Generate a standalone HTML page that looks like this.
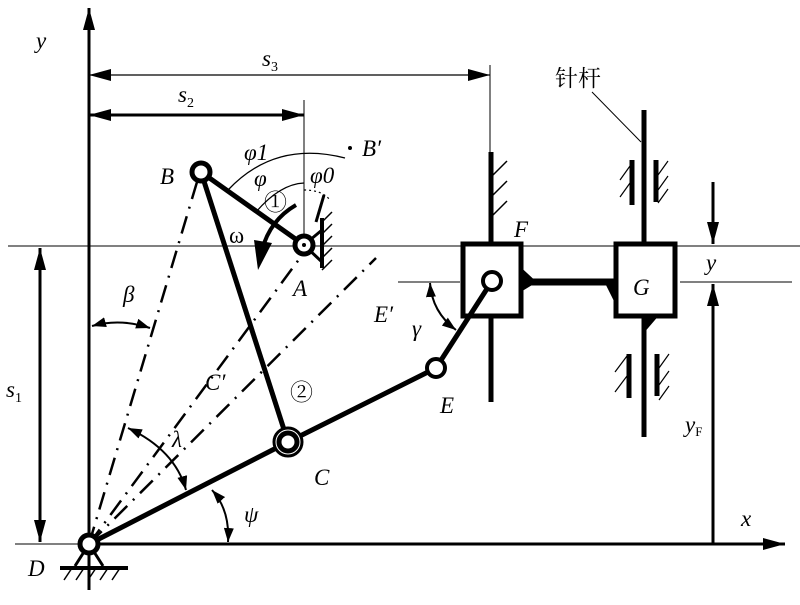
<!DOCTYPE html>
<html><head><meta charset="utf-8"><style>
body{margin:0;background:#fff}
svg{display:block}
text{font-family:"Liberation Serif","Noto Serif CJK SC",serif;font-style:italic;font-size:23px;fill:#000}
.n{font-style:normal}
</style></head><body>
<svg width="800" height="605" viewBox="0 0 800 605" xmlns="http://www.w3.org/2000/svg">
<defs>
<marker id="ab" markerWidth="22" markerHeight="12" refX="22" refY="6" orient="auto-start-reverse" markerUnits="userSpaceOnUse"><path d="M0,0L22,6L0,12z"/></marker>
<marker id="as" markerWidth="14" markerHeight="10" refX="14" refY="5" orient="auto-start-reverse" markerUnits="userSpaceOnUse"><path d="M0,0L14,5L0,10z"/></marker>
</defs>
<g stroke="#000" fill="none">
<line x1="8" y1="246" x2="800" y2="246" stroke-width="1"/>
<line x1="398" y1="282" x2="460" y2="282" stroke-width="1"/>
<line x1="680" y1="282" x2="792" y2="282" stroke-width="1"/>
<line x1="89" y1="590" x2="89" y2="8" stroke-width="3" marker-end="url(#ab)"/>
<line x1="89" y1="544" x2="785" y2="544" stroke-width="3" marker-end="url(#ab)"/>
<line x1="15" y1="544" x2="89" y2="544" stroke-width="1"/>
<line x1="89" y1="75" x2="490" y2="75" stroke-width="1.2" marker-start="url(#ab)" marker-end="url(#ab)"/>
<line x1="490" y1="65" x2="490" y2="155" stroke-width="1"/>
<line x1="89" y1="115" x2="304" y2="115" stroke-width="3" marker-start="url(#ab)" marker-end="url(#ab)"/>
<line x1="304" y1="100" x2="304" y2="245" stroke-width="1"/>
<line x1="40" y1="248" x2="40" y2="542" stroke-width="3" marker-start="url(#ab)" marker-end="url(#ab)"/>
<line x1="713" y1="182" x2="713" y2="244" stroke-width="3" marker-end="url(#ab)"/>
<line x1="713" y1="544" x2="713" y2="284" stroke-width="3" marker-end="url(#ab)"/>
<g stroke-width="2.5" stroke-dasharray="18,8,2,8">
<line x1="89" y1="544" x2="197" y2="182"/>
<line x1="89" y1="544" x2="300" y2="258"/>
<line x1="89" y1="544" x2="376" y2="258"/>
</g>
<path d="M228,190 Q275,140 345,158" stroke-width="1.3"/>
<circle cx="350" cy="148" r="1.5" fill="#000"/>
<path d="M256,212 Q280,184 304,183" stroke-width="1.3"/>
<path d="M304,190 Q322,190 330,200" stroke-width="1.2" stroke-dasharray="2,3"/>
<line x1="324" y1="195" x2="316" y2="222" stroke-width="3"/>
<path d="M296,205 Q270,220 262,250" stroke-width="4"/>
<path d="M254,240 L272,243 L258,270z" fill="#000" stroke="none"/>
<path d="M92,326 Q120,318 150,328" stroke-width="2" marker-start="url(#as)" marker-end="url(#as)"/>
<path d="M128,428 Q175,450 186,490" stroke-width="2" marker-start="url(#as)" marker-end="url(#as)"/>
<path d="M212,490 Q230,510 228,542" stroke-width="2" marker-start="url(#as)" marker-end="url(#as)"/>
<path d="M430,283 Q432,312 456,330" stroke-width="2" marker-start="url(#as)" marker-end="url(#as)"/>
<line x1="201" y1="172" x2="304" y2="245" stroke-width="5"/>
<line x1="201" y1="172" x2="288" y2="442" stroke-width="5"/>
<line x1="89" y1="544" x2="288" y2="442" stroke-width="5"/>
<line x1="288" y1="442" x2="436" y2="368" stroke-width="5"/>
<line x1="436" y1="368" x2="492" y2="281" stroke-width="5"/>
<line x1="304" y1="245" x2="322" y2="230" stroke-width="3"/>
<line x1="304" y1="245" x2="322" y2="262" stroke-width="3"/>
<line x1="322" y1="218" x2="322" y2="268" stroke-width="4"/>
<path d="M322,222l10,-10M322,234l10,-10M322,246l10,-10M322,258l10,-10M322,270l10,-10" stroke-width="1.5"/>
<path d="M89,544 L75,566 M89,544 L103,566" stroke-width="3"/>
<line x1="60" y1="568" x2="128" y2="568" stroke-width="4"/>
<path d="M64,580l8,-12M76,580l8,-12M88,580l8,-12M100,580l8,-12M112,580l8,-12" stroke-width="1.5"/>
<line x1="491" y1="152" x2="491" y2="242" stroke-width="5"/>
<line x1="491" y1="318" x2="491" y2="402" stroke-width="5"/>
<path d="M493,175l14,-14M493,195l14,-14M493,215l14,-14" stroke-width="1.5"/>
<rect x="463" y="244" width="58" height="72" stroke-width="5"/>
<line x1="523" y1="282" x2="614" y2="282" stroke-width="7"/>
<path d="M523,270 L536,282 L523,290z" fill="#000"/>
<path d="M614,282 L605,282 L614,300z" fill="#000"/>
<line x1="644" y1="110" x2="644" y2="242" stroke-width="5"/>
<line x1="644" y1="318" x2="644" y2="437" stroke-width="5"/>
<path d="M644,318 L656,318 L644,332z" fill="#000"/>
<rect x="616" y="244" width="59" height="72" stroke-width="5"/>
<line x1="632" y1="160" x2="632" y2="205" stroke-width="5"/>
<line x1="656" y1="160" x2="656" y2="202" stroke-width="5"/>
<line x1="629" y1="354" x2="629" y2="398" stroke-width="5"/>
<line x1="657" y1="354" x2="657" y2="396" stroke-width="5"/>
<path d="M620,180l10,-14M620,197l10,-14M658,175l10,-14M658,190l10,-14M658,203l10,-14M615,372l12,-16M615,392l12,-16M659,368l10,-14M659,385l10,-14M659,400l10,-14" stroke-width="1.2"/>
<line x1="592" y1="92" x2="641" y2="142" stroke-width="1"/>
</g>
<g stroke="#000" fill="#fff">
<circle cx="201" cy="172" r="9" stroke-width="5"/>
<circle cx="304" cy="245" r="9" stroke-width="5"/>
<circle cx="288" cy="442" r="14" stroke-width="3"/>
<circle cx="288" cy="442" r="9" stroke-width="5"/>
<circle cx="436" cy="368" r="9" stroke-width="4"/>
<circle cx="492" cy="281" r="9" stroke-width="4"/>
<circle cx="89" cy="544" r="9" stroke-width="5"/>
</g>
<circle cx="304" cy="245" r="2" fill="#000"/>
<text x="36" y="48">y</text>
<text x="262" y="66">s<tspan font-size="14" dy="5" class="n">3</tspan></text>
<text x="178" y="102">s<tspan font-size="14" dy="5" class="n">2</tspan></text>
<text x="244" y="160">φ1</text>
<text x="362" y="156">B′</text>
<text x="160" y="184">B</text>
<text x="254" y="186">φ</text>
<text x="310" y="183">φ0</text>
<text x="264" y="210" class="n" font-size="20">①</text>
<text x="229" y="243" class="n">ω</text>
<text x="293" y="296">A</text>
<text x="514" y="237">F</text>
<text x="706" y="270">y</text>
<text x="633" y="295">G</text>
<text x="374" y="322">E′</text>
<text x="412" y="336">γ</text>
<text x="123" y="302">β</text>
<text x="205" y="390">C′</text>
<text x="290" y="400" class="n" font-size="20">②</text>
<text x="440" y="413">E</text>
<text x="685" y="432">y<tspan font-size="13" dy="4" class="n">F</tspan></text>
<text x="6" y="397">s<tspan font-size="14" dy="5" class="n">1</tspan></text>
<text x="172" y="447">λ</text>
<text x="314" y="485">C</text>
<text x="244" y="522">ψ</text>
<text x="28" y="576">D</text>
<text x="741" y="526">x</text>
<text x="555" y="86" class="n" font-size="20" font-family="'Noto Sans CJK SC',sans-serif">针杆</text>
</svg>
</body></html>
